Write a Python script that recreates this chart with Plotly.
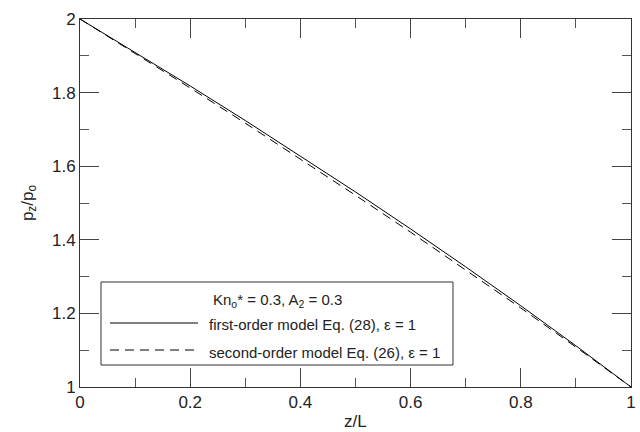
import plotly.graph_objects as go

# ---- data ----
z_over_L = [0.0, 0.1, 0.2, 0.3, 0.4, 0.5, 0.6, 0.7, 0.8, 0.9, 1.0]
first_order = [2.0, 1.9099, 1.8180, 1.7241, 1.6281, 1.5300, 1.4295, 1.3265, 1.2208, 1.1120, 1.0]
second_order = [2.0, 1.9070, 1.8126, 1.7170, 1.6196, 1.5210, 1.4207, 1.3186, 1.2147, 1.1084, 1.0]
x_ticks = [0, 0.2, 0.4, 0.6, 0.8, 1.0]
y_ticks = [1.0, 1.2, 1.4, 1.6, 1.8, 2.0]
legend_title = "Kn<sub>o</sub>* = 0.3, A<sub>2</sub> = 0.3"
name_first = "first-order model Eq. (28), ε = 1"
name_second = "second-order model Eq. (26), ε = 1"

FONT = "Liberation Sans, Arial, Helvetica, sans-serif"
W, H = 640, 432
L, R, T, B = 80, 9, 19, 45
PW, PH = W - L - R, H - T - B


def px(x):
    return (x - L) / PW


def py(y):
    return (H - B - y) / PH


fig = go.Figure()
fig.add_trace(go.Scatter(x=z_over_L, y=first_order, mode="lines", name=name_first,
                         line=dict(color="black", width=1)))
fig.add_trace(go.Scatter(x=z_over_L, y=second_order, mode="lines", name=name_second,
                         line=dict(color="black", width=1, dash="9px,6px")))

axis_common = dict(
    showgrid=False, zeroline=False, showline=True, linecolor="#333", linewidth=1,
    mirror="allticks", ticks="inside", ticklen=19, tickwidth=1, tickcolor="#444",
    tickfont=dict(family=FONT, size=17, color="#222"),
    minor=dict(ticks="inside", ticklen=9, tickwidth=1, tickcolor="#555", dtick=0.1, showgrid=False),
    automargin=False, ticklabeloverflow="allow",
)

fig.update_layout(
    width=W, height=H, margin=dict(l=L, r=R, t=T, b=B),
    paper_bgcolor="white", plot_bgcolor="white", showlegend=False,
    font=dict(family=FONT, size=17, color="#222"),
    xaxis=dict(range=[0, 1], tickvals=x_ticks, ticktext=[f"{v:g}" for v in x_ticks], **axis_common),
    yaxis=dict(range=[1, 2], tickvals=y_ticks, ticktext=[f"{v:g}" for v in y_ticks],
               title=dict(text="p<sub>z</sub>/p<sub>o</sub>", standoff=14, font=dict(family=FONT, size=17)),
               **axis_common),
)

# x-axis title as annotation so it stays inside the figure
fig.add_annotation(xref="paper", yref="paper", x=0.5, y=py(421), text="z/L", showarrow=False,
                   xanchor="center", yanchor="middle", font=dict(family=FONT, size=17, color="#222"))

# legend box drawn manually
box = dict(x0=px(101), x1=px(453), y0=py(365), y1=py(282))
fig.add_shape(type="rect", xref="paper", yref="paper", **box,
              line=dict(color="#333", width=1), fillcolor="white", layer="above")
fig.add_shape(type="line", xref="paper", yref="paper", x0=px(110), x1=px(198), y0=py(323), y1=py(323),
              line=dict(color="black", width=1), layer="above")
fig.add_shape(type="line", xref="paper", yref="paper", x0=px(110), x1=px(198), y0=py(350), y1=py(350),
              line=dict(color="black", width=1, dash="9px,6px"), layer="above")
fig.add_annotation(xref="paper", yref="paper", x=px(277), y=py(300), text=legend_title,
                   showarrow=False, xanchor="center", yanchor="middle",
                   font=dict(family=FONT, size=15, color="#222"))
fig.add_annotation(xref="paper", yref="paper", x=px(207), y=py(324), text=name_first,
                   showarrow=False, xanchor="left", yanchor="middle",
                   font=dict(family=FONT, size=15, color="#222"))
fig.add_annotation(xref="paper", yref="paper", x=px(207), y=py(352), text=name_second,
                   showarrow=False, xanchor="left", yanchor="middle",
                   font=dict(family=FONT, size=15, color="#222"))

fig.write_html(
    "out.html",
    config={"displayModeBar": False, "staticPlot": True},
    post_script="document.body.style.margin='0';document.body.style.padding='0';"
                "document.documentElement.style.overflow='hidden';",
)
